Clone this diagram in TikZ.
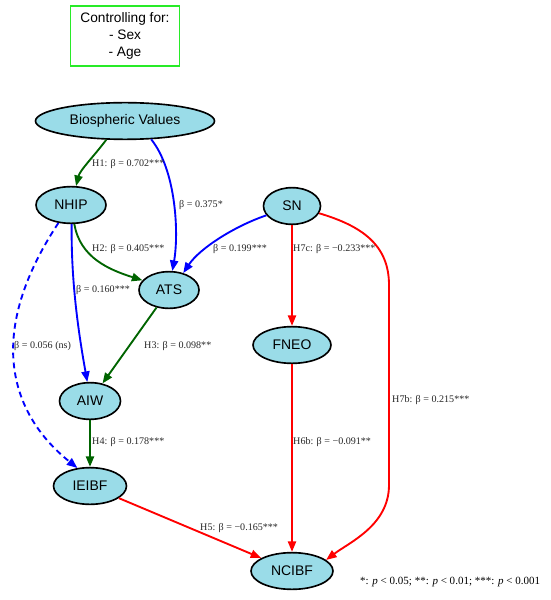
\documentclass[tikz,border=0pt]{standalone}
\usepackage{fontspec}
\setmainfont{Liberation Serif}
\setsansfont{Liberation Sans}
\usetikzlibrary{shapes.geometric,arrows.meta}
\definecolor{NodeFill}{RGB}{154,220,232}
\definecolor{PathGreen}{RGB}{0,100,0}
\definecolor{PathBlue}{RGB}{0,0,255}
\definecolor{PathRed}{RGB}{255,0,0}
\definecolor{CtrlGreen}{RGB}{40,235,40}
\tikzset{
  var/.style={ellipse, draw=black, line width=1.4pt, fill=NodeFill, inner sep=0pt,
    minimum height=1.1cm, font=\sffamily\fontsize{11.9}{14}\selectfont},
  ctrlbox/.style={draw=CtrlGreen, line width=1.2pt, minimum width=3.27cm, minimum height=1.8cm,
    inner sep=0pt, align=center, font=\sffamily\fontsize{11.7}{14.5}\selectfont},
  link/.style={-{Triangle[length=9pt,width=7pt]}, line width=1.6pt},
  lgreen/.style={link, PathGreen},
  lblue/.style={link, PathBlue},
  lred/.style={link, PathRed},
  elab/.style={anchor=west, inner sep=0pt, text=black!85, font=\fontsize{8.6}{10}\selectfont},
}

\begin{document}
\begin{tikzpicture}[x=0.03cm, y=-0.03cm]
  \useasboundingbox (0,0) rectangle (550,600);
  \node[ctrlbox] (ctrl) at (125,36) {Controlling for:\\- Sex\\- Age};
  \foreach \n/\t/\x/\y/\w in {
      bv/Biospheric Values/125/121/179,
      nhip/NHIP/71/205/70,
      ats/ATS/169/290/60,
      sn/SN/292/206/57,
      fneo/FNEO/292/345/78,
      aiw/AIW/90/401/61,
      ieibf/IEIBF/90/486/73,
      ncibf/NCIBF/292/571/82} {
    \node[var, minimum width=\w*0.03cm] (\n) at (\x,\y) {\t};
  }
  % green paths
  \draw[lgreen] (bv.-135) .. controls (95,155) and (80,170) .. (nhip.75);
  \draw[lgreen] (nhip.-80) .. controls (80,258) and (110,270) .. (ats.160);
  \draw[lgreen] (ats) -- (aiw);
  \draw[lgreen] (aiw) -- (ieibf);
  % blue paths
  \draw[lblue] (bv.-35) .. controls (176,170) and (179,233) .. (ats.80);
  \draw[lblue] (sn.-160) .. controls (235,226) and (200,248) .. (ats.50);
  \draw[lblue] (nhip.-88) .. controls (71,280) and (78,330) .. (aiw.98);
  \draw[lblue, dash pattern=on 5pt off 3.5pt] (nhip.235) .. controls (-19,340) and (15,418) .. (ieibf.125);
  % red paths
  \draw[lred] (ieibf) -- (ncibf);
  \draw[lred] (sn) -- (fneo);
  \draw[lred] (fneo) -- (ncibf);
  \draw[lred] (sn.-15) .. controls (362,226) and (389,245) .. (389,285)
    -- (389,485) .. controls (389,525) and (350,542) .. (ncibf.18);
  \foreach \x/\y/\t [count=\i] in {
      92/164/{H1: β = 0.702***},
      179/205/{β = 0.375*},
      92/249/{H2: β = 0.405***},
      213/249/{β = 0.199***},
      76/290/{β = 0.160***},
      144/346/{H3: β = 0.098**},
      14/346/{β = 0.056 (ns)},
      92/442/{H4: β = 0.178***},
      200/528/{H5: β = −0.165***},
      293/249/{H7c: β = −0.233***},
      293/442/{H6b: β = −0.091**},
      392/400/{H7b: β = 0.215***}} {
    \node[elab] (lab\i) at (\x,\y) {\t};
  }
  \node[anchor=west, inner sep=0pt, font=\fontsize{9.4}{11}\selectfont] (legend) at (360,582)
    {*: \textit{p} < 0.05; **: \textit{p} < 0.01; ***: \textit{p} < 0.001};
\end{tikzpicture}
\end{document}
